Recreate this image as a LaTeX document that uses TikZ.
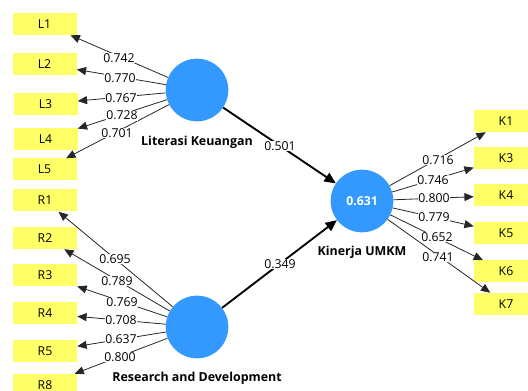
\documentclass[tikz,border=0pt]{standalone}
\usepackage{fontspec}
\setmainfont{Open Sans}
\usetikzlibrary{arrows.meta}
\definecolor{lvblue}{HTML}{3399FF}
\definecolor{indyel}{HTML}{FFFF66}
\tikzset{
  ind/.style={fill=indyel, draw=none, minimum width=48pt, minimum height=16.5pt, inner sep=0pt, font=\fontsize{9.2}{11}\selectfont},
  lv/.style={circle, fill=lvblue, draw=none, minimum size=47pt, inner sep=0pt, text=white, font=\bfseries\fontsize{9.2}{11}\selectfont},
  lvname/.style={font=\bfseries\fontsize{9.3}{11}\selectfont, inner sep=0pt},
  ld/.style={fill=white, inner sep=0.6pt, font=\fontsize{9.2}{11}\selectfont},
  loadarrow/.style={draw=black!85, line width=0.6pt, -{Triangle[length=7pt,width=6pt]}},
  patharrow/.style={draw=black, line width=1.4pt, -{Triangle[length=8.5pt,width=7.5pt]}}
}
\begin{document}
\begin{tikzpicture}[x=0.75pt,y=-0.75pt]
\useasboundingbox (0,0) rectangle (528,391);
\clip (0,0) rectangle (528,391);
% latent variables
\node[lv] (lit) at (197,90) {};
\node[lv] (rd) at (197,327) {};
\node[lv] (kin) at (362,201) {0.631};
\node[lvname] (litn) at (197,142) {Literasi Keuangan};
\node[lvname] (rdn) at (197,378) {Research and Development};
\node[lvname] (kinn) at (362,252) {Kinerja UMKM};
% indicators
\node[ind] (L1) at (44.5,24) {L1};
\node[ind] (L2) at (44.5,64) {L2};
\node[ind] (L3) at (45.5,104) {L3};
\node[ind] (L4) at (45.5,139) {L4};
\node[ind] (L5) at (44.5,169.5) {L5};
\node[ind] (R1) at (45,200.5) {R1};
\node[ind] (R2) at (45,238) {R2};
\node[ind] (R3) at (45,275.5) {R3};
\node[ind] (R4) at (45,313.5) {R4};
\node[ind] (R5) at (45,351.5) {R5};
\node[ind] (R8) at (45,385) {R8};
\node[ind] (K1) at (506,121) {K1};
\node[ind] (K3) at (506,158) {K3};
\node[ind] (K4) at (506,195.5) {K4};
\node[ind] (K5) at (506,233.5) {K5};
\node[ind] (K6) at (506,271.5) {K6};
\node[ind] (K7) at (506,304) {K7};
% loadings
\foreach \t in {L1,L2,L3,L4,L5} \draw[loadarrow] (lit) -- (\t);
\foreach \t in {R1,R2,R3,R4,R5,R8} \draw[loadarrow] (rd) -- (\t);
\foreach \t in {K1,K3,K4,K5,K6,K7} \draw[loadarrow] (kin) -- (\t);
\draw[patharrow] (lit) -- (kin);
\draw[patharrow] (rd) -- (kin);
% labels
\node[ld] (l1) at (119,58) {0.742};
\node[ld] (l2) at (120,78) {0.770};
\node[ld] (l3) at (121,98) {0.767};
\node[ld] (l4) at (122,115.5) {0.728};
\node[ld] (l5) at (117,133) {0.701};
\node[ld] (r1) at (115,259) {0.695};
\node[ld] (r2) at (117,281) {0.789};
\node[ld] (r3) at (122,302) {0.769};
\node[ld] (r4) at (121,320) {0.708};
\node[ld] (r5) at (121,339) {0.637};
\node[ld] (r8) at (120,357) {0.800};
\node[ld] (k1) at (438,160) {0.716};
\node[ld] (k3) at (433,180) {0.746};
\node[ld] (k4) at (434,198) {0.800};
\node[ld] (k5) at (434,217) {0.779};
\node[ld] (k6) at (437,237) {0.652};
\node[ld] (k7) at (438,257) {0.741};
\node[ld] (p1) at (280,146) {0.501};
\node[ld] (p2) at (280,264) {0.349};
\end{tikzpicture}
\end{document}
